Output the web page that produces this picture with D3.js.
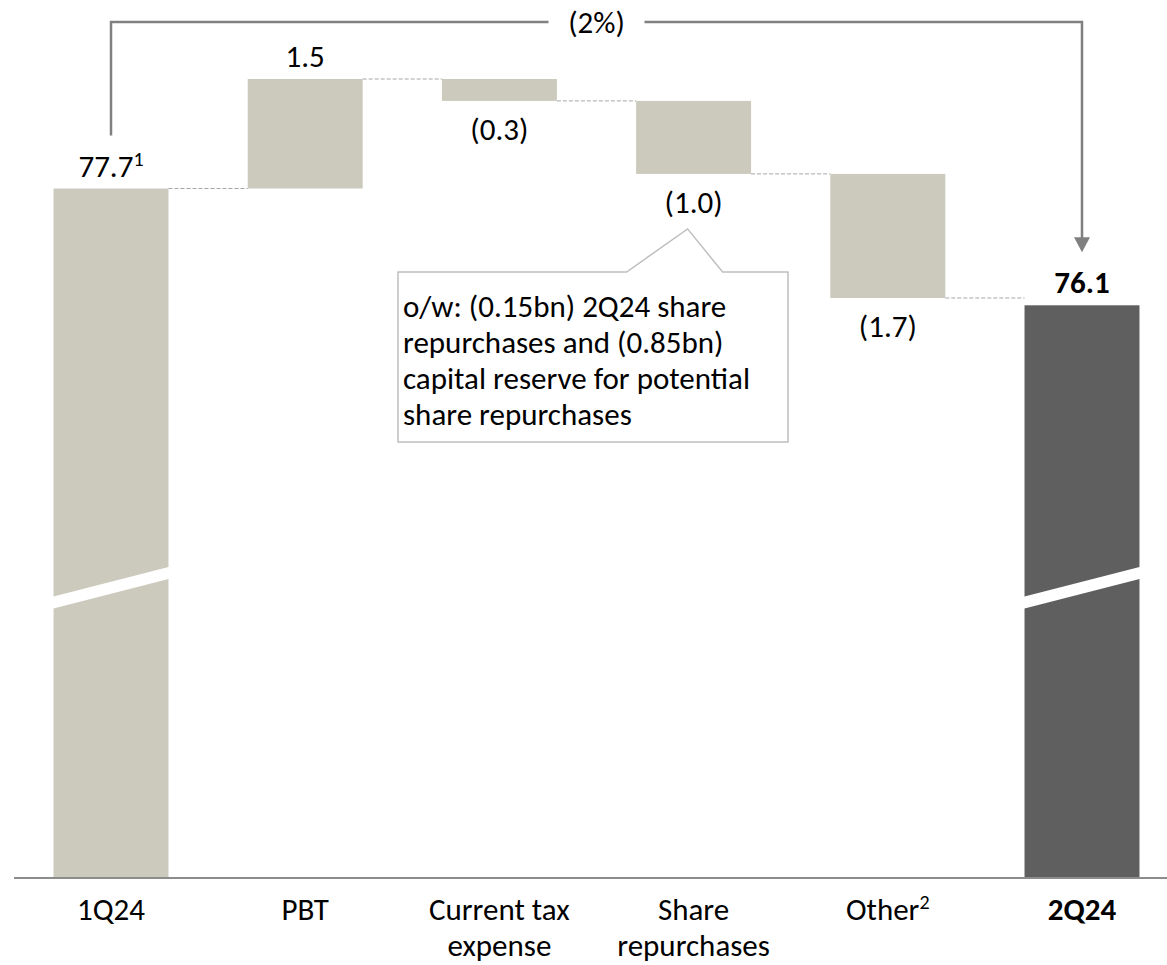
<!DOCTYPE html>
<html>
<head>
<meta charset="utf-8">
<script src="https://cdn.jsdelivr.net/npm/d3@7"></script>
<style>
  html, body { margin: 0; padding: 0; background: #ffffff; }
  svg { display: block; }
  text { font-family: "Carlito", "Lato", "Liberation Sans", sans-serif; fill: #000; }
</style>
</head>
<body>
<svg id="chart" width="1167" height="965"></svg>
<script>
// ---- Data -------------------------------------------------------------
const categories   = ["1Q24", "PBT", "Current tax expense", "Share repurchases", "Other", "2Q24"];
const categoryText = [["1Q24"], ["PBT"], ["Current tax", "expense"], ["Share", "repurchases"], ["Other"], ["2Q24"]];
const categoryNote = ["", "", "", "", "2", ""];
const barKinds     = ["total", "delta", "delta", "delta", "delta", "total"];
const values       = [77.7, 1.5, -0.3, -1.0, -1.7, 76.1];
const valueText    = ["77.7", "1.5", "(0.3)", "(1.0)", "(1.7)", "76.1"];
const valueNote    = ["1", "", "", "", "", ""];
const changeText   = "(2%)";
const calloutText  = [
  "o/w: (0.15bn) 2Q24 share",
  "repurchases and (0.85bn)",
  "capital reserve for potential",
  "share repurchases"
];

// ---- Layout -----------------------------------------------------------
const W = 1167, H = 965;
const axisY = 878;
const svg = d3.select("#chart");

const COLOR_LIGHT = "#CCCABD";
const COLOR_DARK  = "#5E5F5E";
const FONT = 31;
const NOTE_FONT = 20;

// Running totals for the floating bars
let running = 0;
const bars = categories.map((c, i) => {
  let start, end;
  if (barKinds[i] === "total") {
    start = 0; end = values[i]; running = values[i];
  } else {
    start = running; end = running + values[i]; running = end;
  }
  return { cat: c, i, kind: barKinds[i], value: values[i], start, end,
           lo: Math.min(start, end), hi: Math.max(start, end) };
});

// Truncated value axis (the total bars are broken below)
const yTop = 79.2, pxPerUnit = 73;
const yFloor = yTop - (axisY - 79) / pxPerUnit;
const y = d3.scaleLinear().domain([yFloor, yTop]).range([axisY, 79]).clamp(true);

const x = d3.scaleBand()
  .domain(categories)
  .range([13.9, 1179.1])
  .paddingInner(0.408)
  .paddingOuter(0.204);
const bw = x.bandwidth();
const cx = c => x(c) + bw / 2;

// ---- Bars -------------------------------------------------------------
svg.append("g").selectAll("rect")
  .data(bars)
  .join("rect")
  .attr("x", d => x(d.cat))
  .attr("width", bw)
  .attr("y", d => y(d.hi))
  .attr("height", d => y(d.lo) - y(d.hi))
  .attr("fill", d => d.i === bars.length - 1 ? COLOR_DARK : COLOR_LIGHT);

// Axis break: slanted white gap across the total bars
const breakValue = 72.23, breakTilt = 15, breakGap = 6;
svg.append("g").selectAll("polygon")
  .data(bars.filter(d => d.kind === "total"))
  .join("polygon")
  .attr("fill", "#ffffff")
  .attr("points", d => {
    const x0 = x(d.cat) - 1, x1 = x(d.cat) + bw + 1, yc = y(breakValue);
    return [
      [x0, yc + breakTilt - breakGap], [x1, yc - breakTilt - breakGap],
      [x1, yc - breakTilt + breakGap], [x0, yc + breakTilt + breakGap]
    ].map(p => p.join(",")).join(" ");
  });

// Dashed connectors between consecutive bars
svg.append("g").selectAll("line")
  .data(bars.slice(0, -1))
  .join("line")
  .attr("x1", d => x(d.cat) + bw)
  .attr("x2", d => x(categories[d.i + 1]))
  .attr("y1", d => y(d.end))
  .attr("y2", d => y(d.end))
  .attr("stroke", "#A6A6A6")
  .attr("stroke-width", 1)
  .attr("stroke-dasharray", "4,2");

// Baseline
svg.append("line")
  .attr("x1", 14).attr("x2", W)
  .attr("y1", axisY).attr("y2", axisY)
  .attr("stroke", "#8C8C8C").attr("stroke-width", 2);

// ---- Value labels -----------------------------------------------------
const vl = svg.append("g").selectAll("text")
  .data(bars)
  .join("text")
  .attr("x", d => cx(d.cat))
  .attr("y", d => d.value >= 0 ? y(d.hi) - 12 : y(d.lo) + 39)
  .attr("text-anchor", "middle")
  .attr("font-size", FONT)
  .attr("font-weight", d => d.i === bars.length - 1 ? "bold" : "normal");
vl.append("tspan").text(d => valueText[d.i]);
vl.filter(d => valueNote[d.i])
  .append("tspan")
  .attr("font-size", NOTE_FONT)
  .attr("dy", -11)
  .text(d => valueNote[d.i]);

// ---- Category labels --------------------------------------------------
const cl = svg.append("g").selectAll("text")
  .data(categories)
  .join("text")
  .attr("x", c => cx(c))
  .attr("y", 920)
  .attr("text-anchor", "middle")
  .attr("font-size", FONT)
  .attr("font-weight", (c, i) => i === categories.length - 1 ? "bold" : "normal");
cl.each(function (c, i) {
  const t = d3.select(this);
  categoryText[i].forEach((line, k) => {
    t.append("tspan").attr("x", cx(c)).attr("dy", k === 0 ? 0 : 36).text(line);
  });
  if (categoryNote[i]) {
    t.append("tspan").attr("font-size", NOTE_FONT).attr("dy", -11).text(categoryNote[i]);
  }
});

// ---- Overall change bracket ------------------------------------------
const first = bars[0], last = bars[bars.length - 1];
const xa = cx(first.cat), xb = cx(last.cat);
const bracketY = 22;
const startY = y(first.end) - 53;
const tipY = y(last.end) - 53;
const mid = (xa + xb) / 2;
const gap = 48;
const bracket = svg.append("g").attr("fill", "none").attr("stroke", "#808080").attr("stroke-width", 2.5);
bracket.append("path").attr("d", `M${xa},${startY}V${bracketY}H${mid - gap}`);
bracket.append("path").attr("d", `M${mid + gap},${bracketY}H${xb}V${tipY - 14}`);
svg.append("polygon")
  .attr("fill", "#808080")
  .attr("points", `${xb - 8},${tipY - 15} ${xb + 8},${tipY - 15} ${xb},${tipY}`);
svg.append("text")
  .attr("x", mid).attr("y", bracketY + 11)
  .attr("text-anchor", "middle")
  .attr("font-size", FONT)
  .text(changeText);

// ---- Callout on share repurchases ------------------------------------
const share = bars[3];
const apexX = cx(share.cat) - 6, apexY = y(share.lo) + 55;
const box = { x0: 398, x1: 788, y0: 272, y1: 442 };
svg.append("path")
  .attr("d", `M${box.x0},${box.y0}H${apexX - 61}L${apexX},${apexY}L${apexX + 35},${box.y0}H${box.x1}V${box.y1}H${box.x0}Z`)
  .attr("fill", "#ffffff")
  .attr("stroke", "#BFBFBF")
  .attr("stroke-width", 1.5);
svg.append("g").selectAll("text")
  .data(calloutText)
  .join("text")
  .attr("x", box.x0 + 5)
  .attr("y", (d, k) => 317 + k * 36)
  .attr("font-size", FONT)
  .text(d => d);
</script>
</body>
</html>
